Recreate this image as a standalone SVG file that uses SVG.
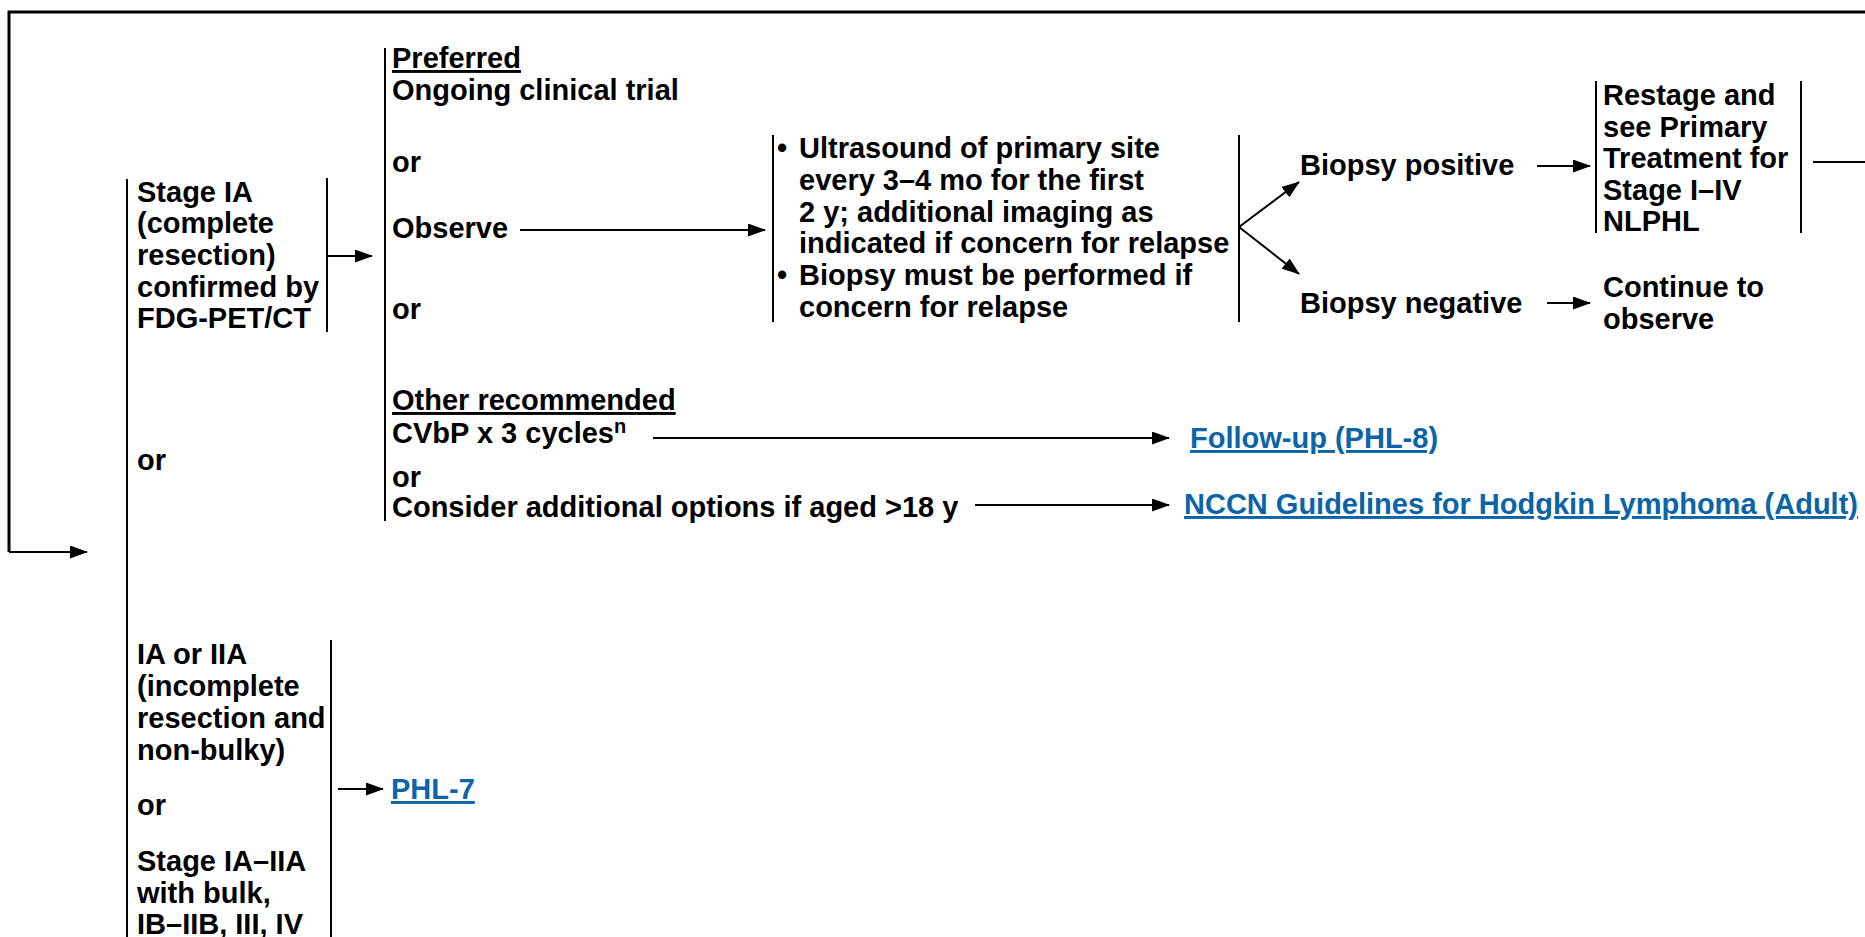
<svg xmlns="http://www.w3.org/2000/svg" width="1865" height="937" viewBox="0 0 1865 937">
<style>
text{font-family:"Liberation Sans",Arial,sans-serif;font-weight:bold;font-size:29px;fill:#000}
.lnk{fill:#0b64a8;text-decoration:underline}
.ul{text-decoration:underline}
.bar{stroke:#000;stroke-width:2;fill:none}
.con{stroke:#000;stroke-width:2;fill:none}
.sup{font-size:20px}
</style>
<defs>
<marker id="ah" markerUnits="userSpaceOnUse" markerWidth="18" markerHeight="13" refX="17" refY="6.5" orient="auto">
<path d="M0,0 L18,6.5 L0,13 Z" fill="#000"/>
</marker>
</defs>
<rect width="1865" height="937" fill="#fff"/>

<g id="connectors">
<path class="con" d="M9,552 L9,12 L1865,12" style="stroke-width:3"/>
<path class="con" d="M9,552 L87,552" marker-end="url(#ah)"/>
<path class="con" d="M328,256 L372,256" marker-end="url(#ah)"/>
<path class="con" d="M520,230 L765,230" marker-end="url(#ah)"/>
<path class="con" d="M1239,227 L1299,182" marker-end="url(#ah)"/>
<path class="con" d="M1239,227 L1299,274" marker-end="url(#ah)"/>
<path class="con" d="M1537,166 L1590,166" marker-end="url(#ah)"/>
<path class="con" d="M1547,303 L1590,303" marker-end="url(#ah)"/>
<path class="con" d="M1813,162 L1865,162"/>
<path class="con" d="M653,438 L1169,438" marker-end="url(#ah)"/>
<path class="con" d="M975,505 L1169,505" marker-end="url(#ah)"/>
<path class="con" d="M338,789 L383,789" marker-end="url(#ah)"/>
</g>

<g id="stage-group">
<line class="bar" x1="127" y1="179" x2="127" y2="937"/>
<text x="137" y="470">or</text>
</g>

<g id="stage-ia">
<line class="bar" x1="327" y1="178" x2="327" y2="332"/>
<text x="137" y="202">Stage IA</text>
<text x="137" y="233">(complete</text>
<text x="137" y="265">resection)</text>
<text x="137" y="297">confirmed by</text>
<text x="137" y="328">FDG-PET/CT</text>
</g>

<g id="stage-other">
<line class="bar" x1="331" y1="640" x2="331" y2="937"/>
<text x="137" y="664">IA or IIA</text>
<text x="137" y="696">(incomplete</text>
<text x="137" y="728">resection and</text>
<text x="137" y="760">non-bulky)</text>
<text x="137" y="815">or</text>
<text x="137" y="871">Stage IA–IIA</text>
<text x="137" y="903">with bulk,</text>
<text x="137" y="934">IB–IIB, III, IV</text>
</g>

<g id="phl7">
<text class="lnk" x="391" y="799">PHL-7</text>
</g>

<g id="options">
<line class="bar" x1="385" y1="48" x2="385" y2="521"/>
<text class="ul" x="392" y="68">Preferred</text>
<text x="392" y="100">Ongoing clinical trial</text>
<text x="392" y="172">or</text>
<text x="392" y="238">Observe</text>
<text x="392" y="319">or</text>
<text class="ul" x="392" y="410">Other recommended</text>
<text x="392" y="443">CVbP x 3 cycles<tspan class="sup" dy="-10">n</tspan></text>
<text x="392" y="487">or</text>
<text x="392" y="517">Consider additional options if aged &gt;18 y</text>
</g>

<g id="surveillance">
<line class="bar" x1="773" y1="135" x2="773" y2="322"/>
<line class="bar" x1="1239" y1="135" x2="1239" y2="322"/>
<text x="777" y="158">•</text>
<text x="799" y="158">Ultrasound of primary site</text>
<text x="799" y="190">every 3–4 mo for the first</text>
<text x="799" y="222">2 y; additional imaging as</text>
<text x="799" y="253">indicated if concern for relapse</text>
<text x="777" y="285">•</text>
<text x="799" y="285">Biopsy must be performed if</text>
<text x="799" y="317">concern for relapse</text>
</g>

<g id="biopsy-positive">
<text x="1300" y="175">Biopsy positive</text>
</g>

<g id="biopsy-negative">
<text x="1300" y="313">Biopsy negative</text>
</g>

<g id="restage">
<line class="bar" x1="1596" y1="81" x2="1596" y2="233"/>
<line class="bar" x1="1801" y1="81" x2="1801" y2="233"/>
<text x="1603" y="105">Restage and</text>
<text x="1603" y="137">see Primary</text>
<text x="1603" y="168">Treatment for</text>
<text x="1603" y="200">Stage I–IV</text>
<text x="1603" y="231">NLPHL</text>
</g>

<g id="continue">
<text x="1603" y="297">Continue to</text>
<text x="1603" y="329">observe</text>
</g>

<g id="followup">
<text class="lnk" x="1190" y="448">Follow-up (PHL-8)</text>
</g>

<g id="nccn">
<text class="lnk" x="1184" y="514">NCCN Guidelines for Hodgkin Lymphoma (Adult)</text>
</g>
</svg>
